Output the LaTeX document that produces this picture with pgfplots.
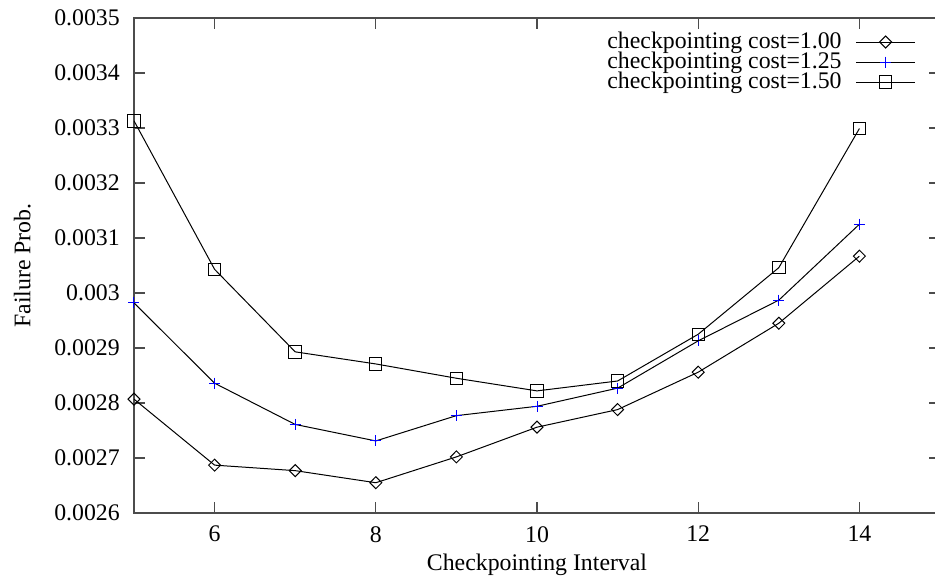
\documentclass[border=0pt]{standalone}
\usepackage{fontspec}
\setmainfont{Liberation Serif}
\usepackage{pgfplots}
\pgfplotsset{compat=1.18}
\begin{document}
\begin{tikzpicture}[font=\fontsize{23.8}{28}\selectfont]
\begin{axis}[
  scale only axis, width=806pt, height=495pt,
  xmin=5, xmax=15, ymin=0.0026, ymax=0.0035,
  xtick={6,8,10,12,14},
  xticklabels={\textrm{6},\textrm{8},\textrm{10},\textrm{12},\textrm{14}},
  ytick={0.0026,0.0027,0.0028,0.0029,0.0030,0.0031,0.0032,0.0033,0.0034,0.0035},
  yticklabels={\textrm{0.0026},\textrm{0.0027},\textrm{0.0028},\textrm{0.0029},\textrm{0.003},\textrm{0.0031},\textrm{0.0032},\textrm{0.0033},\textrm{0.0034},\textrm{0.0035}},
  scaled y ticks=false,
  tick align=inside, major tick length=11pt,
  axis line style={black!70, line width=1.2pt},
  every tick/.style={black!70, line width=1.2pt},
  /pgf/number format/assume math mode=true,
  yticklabel style={inner sep=0pt, xshift=-14pt, anchor=east, font=\fontsize{23.8}{28}\selectfont\rmfamily},
  xticklabel style={inner sep=0pt, yshift=-13pt, anchor=north, font=\fontsize{23.8}{28}\selectfont\rmfamily},
  xlabel={Checkpointing Interval}, ylabel={Failure Prob.},
  xlabel style={at={(axis description cs:0.5,0)}, anchor=north, yshift=-41pt, inner sep=0pt},
  ylabel style={at={(axis description cs:0,0.5)}, anchor=south, rotate=0, yshift=103pt, inner sep=0pt},
  legend style={draw=none, fill=none, at={(axis description cs:0.970,0.972)}, anchor=north east,
    inner sep=0pt, row sep=0pt, column sep=14pt,
    nodes={inner sep=0pt, text height=16.3pt, text depth=3.7pt},
    font=\fontsize{23.8}{28}\selectfont},
  legend cell align=right, legend plot pos=right,
  legend image code/.code={\draw[mark repeat=2,mark phase=2] plot coordinates {(0pt,0pt) (29.5pt,0pt) (59pt,0pt)};},
]
\addplot[black, line width=1pt, mark=diamond, mark size=6pt, mark options={solid, xscale=1.33}]
  coordinates {(5,0.002807)(6,0.002687)(7,0.002677)(8,0.002655)(9,0.002702)(10,0.002756)(11,0.002788)(12,0.002856)(13,0.002945)(14,0.003067)};
\addlegendentry{checkpointing cost=1.00}
\addplot[black, line width=1pt, mark=+, mark size=5.5pt, mark options={solid, blue}]
  coordinates {(5,0.002982)(6,0.002836)(7,0.002761)(8,0.002731)(9,0.002777)(10,0.002794)(11,0.002827)(12,0.002913)(13,0.002987)(14,0.003125)};
\addlegendentry{checkpointing cost=1.25}
\addplot[black, line width=1pt, mark=square, mark size=6.2pt, mark options={solid}]
  coordinates {(5,0.003313)(6,0.003043)(7,0.002893)(8,0.002871)(9,0.002845)(10,0.002822)(11,0.002840)(12,0.002925)(13,0.003046)(14,0.003299)};
\addlegendentry{checkpointing cost=1.50}
\end{axis}
\pgfresetboundingbox
\path[use as bounding box] ([shift={(-134pt,-65pt)}]current axis.south west) rectangle ([shift={(-5pt,18pt)}]current axis.north east);
\end{tikzpicture}
\end{document}
